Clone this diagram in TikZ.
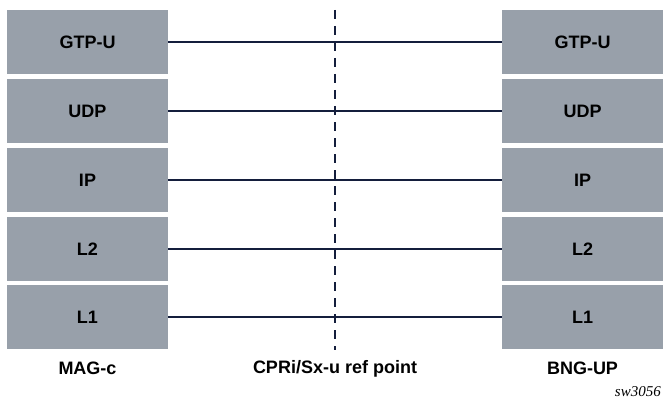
\documentclass[tikz,border=0pt]{standalone}
\usepackage{fontspec}
\setmainfont{Liberation Sans}
\newfontfamily\serifit{Liberation Serif}
\definecolor{boxgray}{HTML}{98A0AA}
\definecolor{navy}{HTML}{141E3C}
\begin{document}
\begin{tikzpicture}[x=1pt,y=-1pt,
  layer/.style={draw=none,fill=boxgray,minimum width=161pt,minimum height=64pt,inner sep=0pt,
    font=\fontsize{18}{20}\selectfont\bfseries,text=black},
  lbl/.style={font=\fontsize{18}{20}\selectfont\bfseries,text=black,inner sep=0pt},
  link/.style={draw=navy,line width=2.8pt},
  refline/.style={draw=navy,line width=2.2pt,dash pattern=on 9pt off 7pt}]
\useasboundingbox (0,0) rectangle (663,401);
\clip (0,0) rectangle (663,401);
\foreach \n/\t/\y in {a/GTP-U/42, b/UDP/111, c/IP/180, d/L2/249, e/L1/317}{
  \node[layer] (L\n) at (87.5,\y) {\t};
  \node[layer] (R\n) at (582.5,\y) {\t};
  \draw[link] (L\n.east) -- (R\n.east -| R\n.west);
}
\coordinate (top) at (335,10);
\coordinate (bot) at (335,350);
\draw[refline] (top) -- (bot);
\node[lbl] (mag) at (87.5,368.5) {MAG-c};
\node[lbl] (cpr) at (335,368.5) {CPRi/Sx-u ref point};
\node[lbl] (bng) at (582.5,368.5) {BNG-UP};
\node[anchor=base east,inner sep=0pt,font=\fontsize{15}{17}\selectfont\serifit\itshape] (sw) at (661,396) {sw3056};
\end{tikzpicture}
\end{document}
